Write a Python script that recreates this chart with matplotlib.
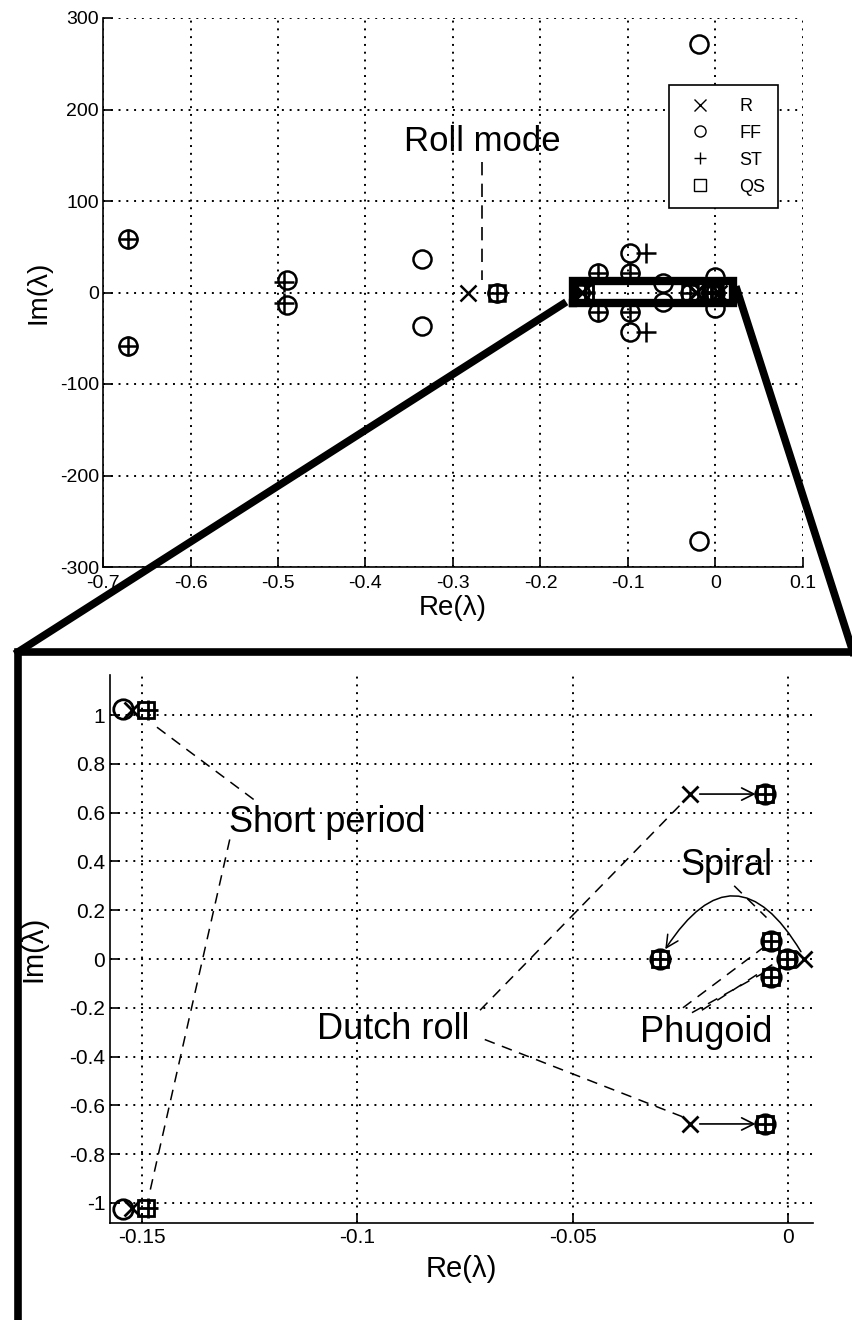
"""Eigenvalue map: rigid (R), full flexible (FF), strip theory (ST) and
quasi-static (QS) models, with a zoom on the rigid-body modes."""
import numpy as np
import matplotlib.pyplot as plt
from matplotlib.lines import Line2D

plt.rcParams['font.family'] = ['Liberation Sans', 'DejaVu Sans']

# ---- eigenvalues (upper half-plane, mirrored later) ----
R_re  = [-0.2830, -0.1524, -0.0228, 0.0037]
R_im  = [0.0, 1.020, 0.676, 0.0]

FF_re = [-0.671, -0.490, -0.335, -0.134, -0.098, -0.098, -0.0186, 0.0, -0.060,
         -0.250, -0.1543, -0.0053, -0.0297, -0.0040, -0.0003]
FF_im = [58.7, 13.5, 37.0, 21.7, 21.7, 43.5, 272.0, 17.0, 10.0,
         0.0, 1.025, 0.676, 0.0, 0.074, 0.0]

ST_re = [-0.671, -0.493, -0.134, -0.098, -0.0795,
         -0.250, -0.1486, -0.0053, -0.0297, -0.0040, -0.0003]
ST_im = [58.7, 12.0, 21.7, 21.7, 43.0,
         0.0, 1.020, 0.676, 0.0, 0.074, 0.0]

QS_re = [-0.250, -0.1490, -0.0053, -0.0297, -0.0040, -0.0003]
QS_im = [0.0, 1.020, 0.676, 0.0, 0.074, 0.0]

models = ["R", "FF", "ST", "QS"]
markers = {"R": "x", "FF": "o", "ST": "+", "QS": "s"}

top_xticks = ["-0.7", "-0.6", "-0.5", "-0.4", "-0.3", "-0.2", "-0.1", "0", "0.1"]
top_yticks = ["-300", "-200", "-100", "0", "100", "200", "300"]
bot_xticks = ["-0.15", "-0.1", "-0.05", "0"]
bot_yticks = ["-1", "-0.8", "-0.6", "-0.4", "-0.2", "0", "0.2", "0.4", "0.6", "0.8", "1"]


def conj(re, im):
    re, im = np.asarray(re), np.asarray(im)
    return np.r_[re, re[im != 0]], np.r_[im, -im[im != 0]]


data = {"R": conj(R_re, R_im), "FF": conj(FF_re, FF_im),
        "ST": conj(ST_re, ST_im), "QS": conj(QS_re, QS_im)}

fig = plt.figure(figsize=(8.53, 13.2), dpi=100)
W, H = 853, 1320


def px_axes(l, t, r, b):
    return fig.add_axes([l / W, 1 - b / H, (r - l) / W, (b - t) / H])


def style(ax):
    for s in ("top", "right"):
        ax.spines[s].set_visible(False)
    for s in ("left", "bottom"):
        ax.spines[s].set_linewidth(1.2)
    ax.tick_params(direction="in", length=7, width=1.2)
    ax.grid(True, color="black", linestyle=(0, (1, 3)), linewidth=1.4)
    ax.set_axisbelow(True)


sizes = {"R": 11, "FF": 13, "ST": 14, "QS": 11}

# ---------------- top: full spectrum ----------------
ax1 = px_axes(103, 18, 803, 567)
style(ax1)
for m in models:
    x, y = data[m]
    ax1.plot(x, y, ls="none", marker=markers[m], ms=sizes[m], mfc="none",
             mec="black", mew=1.8, label=m)
ax1.set_xlim(-0.7, 0.1); ax1.set_ylim(-300, 300)
ax1.set_xticks(np.linspace(-0.7, 0.1, 9))
ax1.set_xticklabels(top_xticks, fontsize=14)
ax1.set_yticks(np.linspace(-300, 300, 7))
ax1.set_yticklabels(top_yticks, fontsize=14)
ax1.tick_params(axis="x", pad=6)
ax1.tick_params(axis="y", pad=3)
ax1.set_xlabel("Re(λ)", fontsize=20, labelpad=2)
ax1.set_ylabel("Im(λ)", fontsize=20, labelpad=6)

leg_handles = [Line2D([], [], ls="none", marker=markers[m], ms=8, mfc="none",
                      mec="black", mew=1.0) for m in models]
leg = ax1.legend(leg_handles, models, loc="upper right",
                 bbox_to_anchor=(0.977, 0.894), fancybox=False, edgecolor="black",
                 fontsize=13, handletextpad=1.2, borderpad=0.7, labelspacing=0.55,
                 framealpha=1)
leg.get_frame().set_linewidth(1.2)

ax1.text(-0.266, 165, "Roll mode", fontsize=25, ha="center", va="center")
ax1.plot([-0.267, -0.267], [143, 14], color="black", lw=1.2, ls=(0, (8, 5)))

# zoom rectangle on the top plot
rx0, rx1, ry0, ry1 = -0.163, 0.020, -12, 13
ax1.plot([rx0, rx1, rx1, rx0, rx0], [ry0, ry0, ry1, ry1, ry0], color="black",
         lw=6, solid_joinstyle="miter", clip_on=False, zorder=5)

# ---------------- bottom: rigid-body modes ----------------
ax2 = px_axes(110, 675, 813, 1223)
style(ax2)
for m in models:
    x, y = data[m]
    ax2.plot(x, y, ls="none", marker=markers[m], ms=sizes[m] + 1, mfc="none",
             mec="black", mew=2.0)
ax2.set_xlim(-0.1574, 0.0058); ax2.set_ylim(-1.082, 1.164)
ax2.set_xticks([-0.15, -0.1, -0.05, 0])
ax2.set_xticklabels(bot_xticks, fontsize=15)
ax2.set_yticks(np.linspace(-1, 1, 11))
ax2.set_yticklabels(bot_yticks, fontsize=15)
ax2.set_xlabel("Re(λ)", fontsize=21, labelpad=6)
ax2.set_ylabel("Im(λ)", fontsize=21, labelpad=16)

dash = dict(color="black", lw=1.1, ls=(0, (7, 5)))
ax2.text(-0.107, 0.56, "Short period", fontsize=26, ha="center", va="center")
ax2.plot([-0.1465, -0.123], [0.95, 0.64], **dash)
ax2.plot([-0.1296, -0.1481], [0.49, -0.95], **dash)

ax2.text(-0.0917, -0.29, "Dutch roll", fontsize=26, ha="center", va="center")
ax2.plot([-0.0715, -0.0240], [-0.21, 0.65], **dash)
ax2.plot([-0.0704, -0.0240], [-0.33, -0.65], **dash)
for s in (1, -1):
    ax2.annotate("", xy=(-0.0075, s * 0.676), xytext=(-0.0205, s * 0.676),
                 arrowprops=dict(arrowstyle="->", color="black", lw=1.2,
                                 mutation_scale=22, shrinkA=0, shrinkB=0))

ax2.text(-0.0144, 0.385, "Spiral", fontsize=26, ha="center", va="center")
ax2.plot([-0.0125, -0.0050], [0.30, 0.17], **dash)
ax2.annotate("", xy=(-0.0285, 0.04), xytext=(0.0030, 0.03),
             arrowprops=dict(arrowstyle="->", color="black", lw=1.1,
                             mutation_scale=22, shrinkA=0, shrinkB=0,
                             connectionstyle="arc3,rad=0.8"))

ax2.text(-0.019, -0.303, "Phugoid", fontsize=26, ha="center", va="center")
ax2.plot([-0.0244, -0.0055], [-0.20, 0.05], **dash)
ax2.plot([-0.0223, -0.0060], [-0.22, -0.06], **dash)
ax2.plot([-0.0200, -0.0025], [-0.21, -0.01], **dash)

# ---- connector lines and zoom frame in figure pixels ----
def fig_line(xs, ys, lw):
    fig.add_artist(Line2D([x / W for x in xs], [1 - y / H for y in ys],
                          color="black", lw=lw, solid_joinstyle="miter",
                          transform=fig.transFigure, zorder=6))


fig_line([563, 18], [304, 652], 5.5)
fig_line([737, 853], [290, 652], 5.5)
fig_line([18, 18, 860], [1330, 652, 652], 5.5)

fig.savefig("out.png", dpi=100)
